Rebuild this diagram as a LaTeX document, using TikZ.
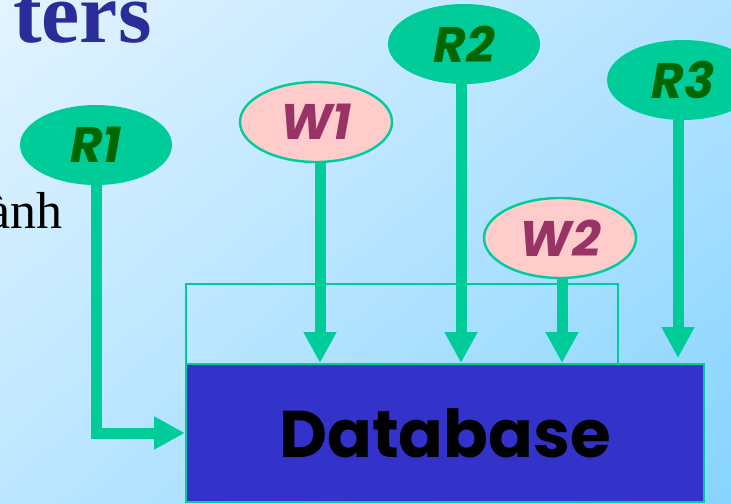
\documentclass[tikz,border=0pt]{standalone}
\usepackage{fontspec}
\setmainfont{Liberation Serif}
\newfontfamily\comicfont{Poppins}
\usetikzlibrary{arrows.meta,shapes.geometric,shadings}
\definecolor{sea}{HTML}{00CC99}
\definecolor{leaf}{HTML}{006600}
\definecolor{blush}{HTML}{FFCCCC}
\definecolor{plum}{HTML}{993366}
\definecolor{royal}{HTML}{3333CC}
\definecolor{ink}{HTML}{2B2B99}
\definecolor{skyA}{HTML}{E2F4FF}
\definecolor{skyB}{HTML}{B4E2FF}
\definecolor{skyC}{HTML}{BCE6FF}
\definecolor{skyD}{HTML}{86D4FF}
\begin{document}
\begin{tikzpicture}[
 x=.5pt,y=-.5pt,
 reader/.style={ellipse,fill=sea,minimum width=76pt,minimum height=40pt,inner sep=0pt,
   text=leaf,font=\comicfont\bfseries\itshape\fontsize{25}{25}\selectfont},
 writer/.style={reader,fill=blush,draw=sea,line width=1.2pt,text=plum},
 store/.style={rectangle,fill=royal,draw=sea,line width=1pt,minimum width=259pt,
   minimum height=69pt,inner sep=0pt,font=\comicfont\bfseries\fontsize{33}{33}\selectfont},
 feed/.style={sea,line width=5.5pt,-{Triangle[width=15.5pt,length=15.5pt]}},
 frame/.style={draw=sea,line width=1pt}]
 % Page background.
 \useasboundingbox (0,0) rectangle (731,503);
 \shade[upper left=skyA,upper right=skyB,lower left=skyC,lower right=skyD]
   (0,0) rectangle (731,503);
 % Pieces of the slide text, cut by the frame.
 \node[anchor=base east,inner sep=0pt,text=ink,
   font=\bfseries\fontsize{43}{43}\selectfont] (head) at (152,42) {ters};
 \node[anchor=base east,inner sep=0pt,font=\fontsize{26}{26}\selectfont] (line) at (63,228) {ành};
 % Shared data and the area above it.
 \draw[frame] (186,364) rectangle (618,284);
 \node[store] (db) at (445,433) {Database};
 % Readers and writers.
 \node[reader] (r1) at (96,145) {R1};
 \node[writer] (w1) at (316,122) {W1};
 \node[reader] (r2) at (464,44) {R2};
 \node[writer] (w2) at (560,238) {W2};
 \node[reader] (r3) at (683,80) {R3};
 \draw[feed] (r1.south) |- (db.west);
 \foreach \s/\dx in {w1/2pt,r2/-1.5pt,w2/1pt}{
   \coordinate (top) at ([xshift=\dx]\s.south);
   \draw[feed] (top) -- (top |- db.north);
 }
 \coordinate (top) at ([xshift=-2.5pt]r3.south);
 \draw[feed,shorten >=2.5pt] (top) -- (top |- db.north);
\end{tikzpicture}
\end{document}
